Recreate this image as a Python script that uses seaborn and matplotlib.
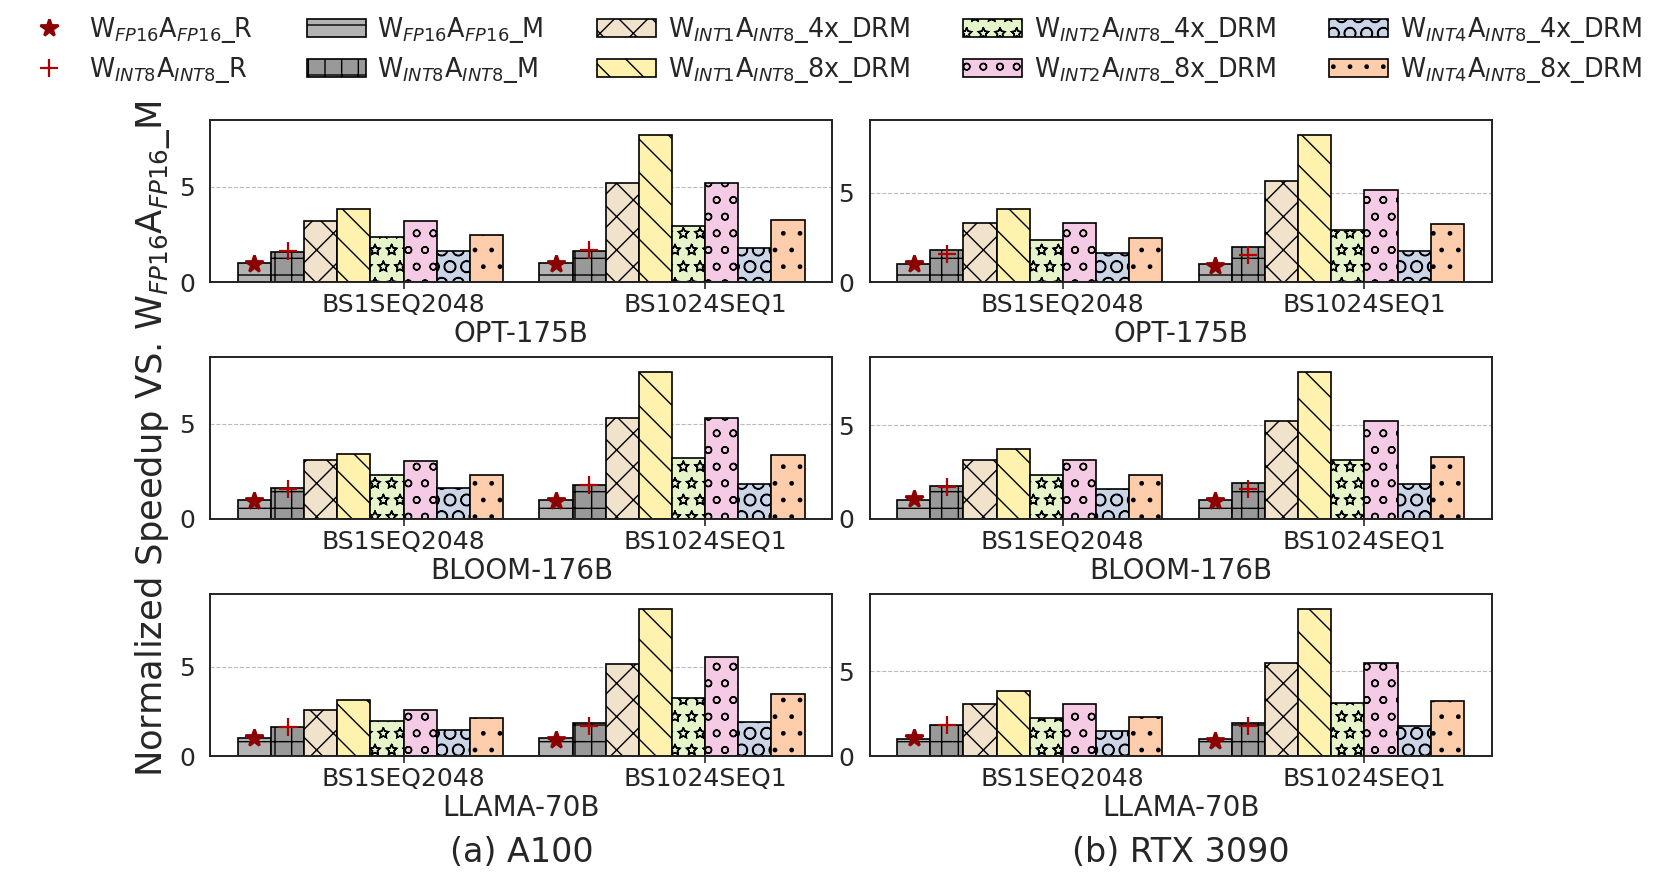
import matplotlib
matplotlib.use("Agg")
import matplotlib.pyplot as plt
import matplotlib.hatch as mhatch
import numpy as np
import pandas as pd
import seaborn as sns

# ---------------- data ----------------
WORKLOADS = ["BS1SEQ2048", "BS1024SEQ1"]
MODELS = ["OPT-175B", "BLOOM-176B", "LLAMA-70B"]
GPUS = ["(a) A100", "(b) RTX 3090"]

FP16_R = r"W$_{FP16}$A$_{FP16}$_R"
INT8_R = r"W$_{INT8}$A$_{INT8}$_R"
BAR_SERIES = [
    r"W$_{FP16}$A$_{FP16}$_M",
    r"W$_{INT8}$A$_{INT8}$_M",
    r"W$_{INT1}$A$_{INT8}$_4x_DRM",
    r"W$_{INT1}$A$_{INT8}$_8x_DRM",
    r"W$_{INT2}$A$_{INT8}$_4x_DRM",
    r"W$_{INT2}$A$_{INT8}$_8x_DRM",
    r"W$_{INT4}$A$_{INT8}$_4x_DRM",
    r"W$_{INT4}$A$_{INT8}$_8x_DRM",
]
BAR_COLORS = ["#b3b3b3", "#999999", "#f1e2cc", "#fff2ae",
              "#e6f5c9", "#f4cae4", "#cbd5e8", "#fdcdac"]
BAR_HATCHES = ["--", "++", "xx", "\\\\", "**", "oo", "OO", ".."]

# bar values per panel: [BS1SEQ2048 list, BS1024SEQ1 list]
a100_opt_bs1 = [1.0, 1.58, 3.23, 3.86, 2.35, 3.23, 1.61, 2.46]
a100_opt_bs1024 = [1.0, 1.65, 5.21, 7.75, 2.95, 5.21, 1.79, 3.28]
a100_bloom_bs1 = [1.0, 1.63, 3.09, 3.39, 2.32, 3.07, 1.63, 2.32]
a100_bloom_bs1024 = [1.0, 1.77, 5.32, 7.74, 3.18, 5.32, 1.86, 3.35]
a100_llama_bs1 = [1.0, 1.62, 2.61, 3.12, 1.96, 2.61, 1.46, 2.15]
a100_llama_bs1024 = [1.0, 1.88, 5.15, 8.23, 3.25, 5.54, 1.90, 3.49]
rtx_opt_bs1 = [1.0, 1.79, 3.28, 4.10, 2.33, 3.28, 1.60, 2.48]
rtx_opt_bs1024 = [1.0, 1.94, 5.65, 8.25, 2.93, 5.15, 1.75, 3.26]
rtx_bloom_bs1 = [1.0, 1.74, 3.17, 3.75, 2.37, 3.17, 1.58, 2.37]
rtx_bloom_bs1024 = [1.0, 1.90, 5.21, 7.85, 3.13, 5.21, 1.85, 3.30]
rtx_llama_bs1 = [1.0, 1.82, 3.08, 3.82, 2.24, 3.08, 1.49, 2.29]
rtx_llama_bs1024 = [1.0, 1.94, 5.47, 8.65, 3.12, 5.47, 1.78, 3.24]

# R (marker) values per panel: [BS1SEQ2048, BS1024SEQ1]
a100_opt_fp16_r = [0.96, 0.96]
a100_opt_int8_r = [1.63, 1.67]
a100_bloom_fp16_r = [0.96, 0.96]
a100_bloom_int8_r = [1.60, 1.79]
a100_llama_fp16_r = [1.03, 0.93]
a100_llama_int8_r = [1.66, 1.70]
rtx_opt_fp16_r = [0.99, 0.88]
rtx_opt_int8_r = [1.55, 1.53]
rtx_bloom_fp16_r = [1.05, 0.98]
rtx_bloom_int8_r = [1.69, 1.62]
rtx_llama_fp16_r = [1.06, 0.92]
rtx_llama_int8_r = [1.84, 1.78]

PANEL_BARS = [
    [(a100_opt_bs1, a100_opt_bs1024), (rtx_opt_bs1, rtx_opt_bs1024)],
    [(a100_bloom_bs1, a100_bloom_bs1024), (rtx_bloom_bs1, rtx_bloom_bs1024)],
    [(a100_llama_bs1, a100_llama_bs1024), (rtx_llama_bs1, rtx_llama_bs1024)],
]
PANEL_R = [
    [(a100_opt_fp16_r, a100_opt_int8_r), (rtx_opt_fp16_r, rtx_opt_int8_r)],
    [(a100_bloom_fp16_r, a100_bloom_int8_r), (rtx_bloom_fp16_r, rtx_bloom_int8_r)],
    [(a100_llama_fp16_r, a100_llama_int8_r), (rtx_llama_fp16_r, rtx_llama_int8_r)],
]

# ---------------- style ----------------
sns.set_style("white")
plt.rcParams["font.family"] = ["DejaVu Sans"]
plt.rcParams["mathtext.fontset"] = "dejavusans"
plt.rcParams["hatch.linewidth"] = 0.5
# hollow (outlined) star hatch, as in the reference
mhatch.Stars.filled = False

W, H, DPI = 1661, 881, 200
fig = plt.figure(figsize=(W / DPI, H / DPI), dpi=DPI)

col_left = [210.4 / W, 869.6 / W]
ax_w = 622.0 / W
row_bottom = [1 - 282.0 / H, 1 - 519.0 / H, 1 - 756.3 / H]
ax_h = 162.0 / H

hue_order = BAR_SERIES + [FP16_R, INT8_R]
palette = dict(zip(BAR_SERIES, BAR_COLORS))
palette[FP16_R] = "#8b0000"
palette[INT8_R] = "#8b0000"

legend_handles = {}
for r, model in enumerate(MODELS):
    for c in range(2):
        ax = fig.add_axes([col_left[c], row_bottom[r], ax_w, ax_h])
        bs1, bs1024 = PANEL_BARS[r][c]
        rows = []
        for wl, vals in zip(WORKLOADS, (bs1, bs1024)):
            for s, v in zip(BAR_SERIES, vals):
                rows.append({"workload": wl, "method": s, "speedup": v})
        df = pd.DataFrame(rows)
        sns.barplot(data=df, x="workload", y="speedup", hue="method",
                    order=WORKLOADS, hue_order=hue_order, palette=palette,
                    width=1.1, saturation=1, errorbar=None, legend=False,
                    edgecolor="black", linewidth=0.6, ax=ax)
        for cont, hatch, lab in zip(ax.containers, BAR_HATCHES, BAR_SERIES):
            for p in cont.patches:
                p.set_hatch(hatch)
            if lab not in legend_handles:
                legend_handles[lab] = cont.patches[0]
        # R markers on top of the M bars
        fp16_r, int8_r = PANEL_R[r][c]
        xs_fp16 = [p.get_x() + p.get_width() / 2 for p in ax.containers[0].patches]
        xs_int8 = [p.get_x() + p.get_width() / 2 for p in ax.containers[1].patches]
        l1, = ax.plot(xs_fp16, fp16_r, ls="none", marker="*", ms=6.5,
                      color="#8b0000", zorder=5)
        l2, = ax.plot(xs_int8, int8_r, ls="none", marker="+", ms=6.5,
                      mew=0.8, color="#b00000", zorder=5)
        legend_handles.setdefault(FP16_R, l1)
        legend_handles.setdefault(INT8_R, l2)

        allv = list(bs1) + list(bs1024)
        ax.set_ylim(0, max(allv) * 1.1)
        ax.set_xlim(-0.641, 1.422)
        ax.set_yticks([0, 5])
        ax.yaxis.grid(True, ls="--", color="#bbbbbb", lw=0.4)
        ax.set_axisbelow(True)
        ax.set_ylabel("")
        ax.set_xlabel(model, fontsize=10, labelpad=1)
        ax.tick_params(axis="x", labelsize=9, bottom=True, length=2.5,
                       width=0.6, pad=1.5)
        ax.tick_params(axis="y", labelsize=9, left=False, pad=2)
        for sp in ax.spines.values():
            sp.set_color("#222222")
            sp.set_linewidth(0.7)

# legend (column-major: R pair, M pair, INT1 pair, INT2 pair, INT4 pair)
leg_order = [FP16_R, INT8_R] + BAR_SERIES
fig.legend([legend_handles[k] for k in leg_order], leg_order,
           loc="upper center", bbox_to_anchor=(0.5, 0.999), ncol=5,
           frameon=False, fontsize=9.2, handlelength=2.3, handletextpad=0.45,
           columnspacing=2.1, labelspacing=0.38, borderaxespad=0.15)

# captions
for c, g in enumerate(GPUS):
    fig.text(col_left[c] + ax_w / 2, 1 - 853.0 / H, g, ha="center",
             va="center", fontsize=12)

fig.text(153.0 / W, 0.502, r"Normalized Speedup VS. W$_{FP16}$A$_{FP16}$_M",
         rotation=90, ha="center", va="center", fontsize=12.7)

fig.savefig("out.png", dpi=DPI)
